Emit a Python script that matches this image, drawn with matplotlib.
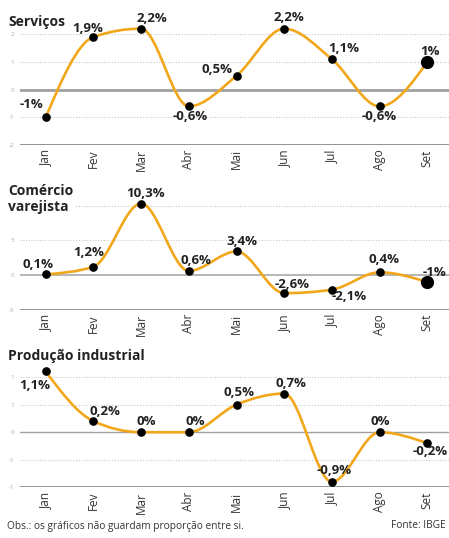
import numpy as np
import matplotlib.pyplot as plt
from matplotlib.path import Path
from matplotlib.patches import PathPatch

plt.rcParams['font.family'] = ['Open Sans', 'DejaVu Sans']

# Dados
meses = ['Jan', 'Fev', 'Mar', 'Abr', 'Mai', 'Jun', 'Jul', 'Ago', 'Set']

servicos = [-1.0, 1.9, 2.2, -0.6, 0.5, 2.2, 1.1, -0.6, 1.0]
servicos_rotulos = ['-1%', '1,9%', '2,2%', '-0,6%', '0,5%', '2,2%', '1,1%', '-0,6%', '1%']
servicos_ticks = [2, 1, 0, -1, -2]
servicos_ticklabels = ['2', '1', '0', '-1', '-2']

comercio = [0.1, 1.2, 10.3, 0.6, 3.4, -2.6, -2.1, 0.4, -1.0]
comercio_rotulos = ['0,1%', '1,2%', '10,3%', '0,6%', '3,4%', '-2,6%', '-2,1%', '0,4%', '-1%']
comercio_ticks = [10, 5, 0, -5]
comercio_ticklabels = ['', '5', '0', '-5']

producao = [1.1, 0.2, 0.0, 0.0, 0.5, 0.7, -0.9, 0.0, -0.2]
producao_rotulos = ['1,1%', '0,2%', '0%', '0%', '0,5%', '0,7%', '-0,9%', '0%', '-0,2%']
producao_ticks = [1, 0.5, 0, -0.5, -1]
producao_ticklabels = ['1', '1', '0', '-1', '-1']

# deslocamento dos rótulos (pixels)
servicos_desl = [(-14, 13), (-6, 8), (11, 10), (1, -10), (-20, 6), (5, 11), (12, 11), (0, -10), (3, 10)]
comercio_desl = [(-8, 10), (-5, 14), (4, 10), (7, 10), (5, 10), (8, 9), (17, -7), (4, 13), (7, 10)]
producao_desl = [(-11, -14), (12, 10), (5, 11), (6, 11), (3, 12), (7, 10), (2, 11), (1, 11), (3, -8)]

LARANJA = '#F2A71B'
W, H = 449, 538

fig = plt.figure(figsize=(W / 100, H / 100), dpi=100)


def inclinacoes(xs, ys):
    # inclinações monotônicas (estilo curveMonotoneX)
    n = len(xs)
    t = np.zeros(n)
    for i in range(1, n - 1):
        h0 = xs[i] - xs[i - 1]
        h1 = xs[i + 1] - xs[i]
        s0 = (ys[i] - ys[i - 1]) / h0
        s1 = (ys[i + 1] - ys[i]) / h1
        p = (s0 * h1 + s1 * h0) / (h0 + h1)
        t[i] = (np.sign(s0) + np.sign(s1)) * min(abs(s0), abs(s1), 0.5 * abs(p))
    t[0] = (3 * (ys[1] - ys[0]) / (xs[1] - xs[0]) - t[1]) / 2
    t[-1] = (3 * (ys[-1] - ys[-2]) / (xs[-1] - xs[-2]) - t[-2]) / 2
    return t


def curva_suave(ax, xs, ys):
    xs = np.asarray(xs, float)
    ys = np.asarray(ys, float)
    t = inclinacoes(xs, ys)
    verts = [(xs[0], ys[0])]
    codes = [Path.MOVETO]
    for i in range(len(xs) - 1):
        dx = (xs[i + 1] - xs[i]) / 3
        verts += [(xs[i] + dx, ys[i] + dx * t[i]),
                  (xs[i + 1] - dx, ys[i + 1] - dx * t[i + 1]),
                  (xs[i + 1], ys[i + 1])]
        codes += [Path.CURVE4] * 3
    ax.add_patch(PathPatch(Path(verts, codes), fill=False, edgecolor=LARANJA,
                           lw=1.9, clip_on=False, zorder=3))


def painel(top_px, zero_px, unit_px, bottom_val, valores, rotulos, desl,
           ticks, ticklabels, zero_lw, zero_cor, ponto_grande):
    bottom_px = zero_px - bottom_val * unit_px
    left_px, right_px = 20, 449
    ax = fig.add_axes([left_px / W, 1 - bottom_px / H,
                       (right_px - left_px) / W, (bottom_px - top_px) / H])
    ax.set_xlim((left_px - 45.7) / 47.7, (right_px - 45.7) / 47.7)
    ax.set_ylim(bottom_val, bottom_val + (bottom_px - top_px) / unit_px)
    for s in ax.spines.values():
        s.set_visible(False)
    for t in ticks:
        if t == 0:
            ax.axhline(0, color=zero_cor, lw=zero_lw, zorder=1)
        elif t == bottom_val:
            ax.axhline(t, color='#8a8a8a', lw=1.3, zorder=1)
        else:
            ax.axhline(t, color='#c8c8c8', lw=0.8, ls=(0, (1, 1.5)), zorder=1)
    ax.set_yticks(ticks)
    ax.set_yticklabels(ticklabels)
    ax.tick_params(axis='y', length=0, pad=4, labelsize=4.5, labelcolor='#aaaaaa')
    x = np.arange(len(meses))
    ax.set_xticks(x)
    ax.set_xticklabels(meses, rotation=90, va='top', ha='center')
    ax.tick_params(axis='x', length=0, pad=3, labelsize=8.5, labelcolor='#333333')

    curva_suave(ax, x, valores)
    tamanhos = [5.2] * len(valores)
    if ponto_grande:
        tamanhos[-1] = 8.5
    for xi, yi, ms in zip(x, valores, tamanhos):
        ax.plot(xi, yi, 'o', color='black', ms=ms, zorder=4, clip_on=False)
    for xi, yi, r, d in zip(x, valores, rotulos, desl):
        ax.annotate(r, (xi, yi), xytext=d, textcoords='offset pixels',
                    ha='center', va='center', fontsize=9.5, fontweight='bold',
                    color='#222222', zorder=5, annotation_clip=False)
    return ax


painel(20, 89.7, 27.75, -2, servicos, servicos_rotulos, servicos_desl,
       servicos_ticks, servicos_ticklabels, 2.0, '#a0a0a0', True)
painel(185, 275.1, 6.95, -5, comercio, comercio_rotulos, comercio_desl,
       comercio_ticks, comercio_ticklabels, 1.3, '#b0b0b0', True)
painel(360, 432.2, 55.2, -1, producao, producao_rotulos, producao_desl,
       producao_ticks, producao_ticklabels, 1.0, '#a0a0a0', False)

# Títulos
fig.text(8 / W, 1 - 22 / H, 'Serviços', fontsize=10, fontweight='bold',
         color='#222222', va='center', ha='left')
fig.text(8 / W, 1 - 199 / H, 'Comércio\nvarejista', fontsize=10, fontweight='bold',
         color='#222222', va='center', ha='left', linespacing=1.2,
         bbox=dict(facecolor='white', edgecolor='none', pad=1), zorder=10)
fig.text(8 / W, 1 - 356 / H, 'Produção industrial', fontsize=10, fontweight='bold',
         color='#222222', va='center', ha='left')

# Rodapé
fig.text(7 / W, 1 - 526 / H, 'Obs.: os gráficos não guardam proporção entre si.',
         fontsize=7.3, color='#333333', va='center', ha='left')
fig.text(446 / W, 1 - 526 / H, 'Fonte: IBGE', fontsize=7.3, color='#333333',
         va='center', ha='right')

fig.savefig('out.png', dpi=100)
